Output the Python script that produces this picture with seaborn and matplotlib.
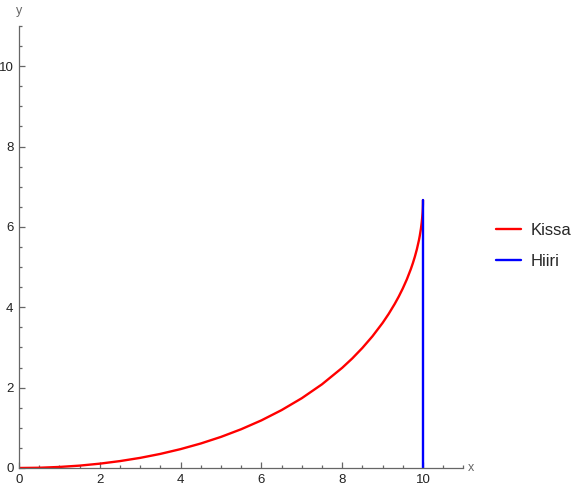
import numpy as np
import pandas as pd
import matplotlib
matplotlib.use("Agg")
import matplotlib.pyplot as plt
import seaborn as sns
from matplotlib.ticker import MultipleLocator

# cat path
kissa_x = [0, 0.5, 1, 1.5, 2, 2.5, 3, 3.5, 4, 4.5, 5, 5.5, 6, 6.5, 7, 7.5, 8, 8.25, 8.5,
           8.75, 9, 9.15, 9.3, 9.4, 9.5, 9.6, 9.7, 9.75, 9.8, 9.85, 9.9, 9.92, 9.95, 9.97,
           9.98, 9.99, 9.995, 9.999, 10]
kissa_y = [0, 0.006, 0.026, 0.059, 0.108, 0.172, 0.252, 0.351, 0.47, 0.61, 0.774, 0.965,
           1.185, 1.441, 1.737, 2.083, 2.493, 2.727, 2.988, 3.279, 3.61, 3.834, 4.083,
           4.266, 4.468, 4.693, 4.952, 5.099, 5.262, 5.448, 5.67, 5.775, 5.961, 6.12,
           6.22, 6.351, 6.445, 6.567, 6.667]
# mouse path
hiiri_x = [10, 10]
hiiri_y = [0, 6.667]

df = pd.concat([
    pd.DataFrame({"x": kissa_x, "y": kissa_y, "name": "Kissa"}),
    pd.DataFrame({"x": hiiri_x, "y": hiiri_y, "name": "Hiiri"}),
])

sns.set_style("white")
plt.rcParams['font.family'] = ['Liberation Sans', 'DejaVu Sans']

fig = plt.figure(figsize=(5.79, 4.90), dpi=100)
ax = fig.add_axes([0.0328, 0.0449, 0.7675, 0.902])

sns.lineplot(data=df, x="x", y="y", hue="name", palette={"Kissa": "#ff0000", "Hiiri": "#0000ff"},
             sort=False, estimator=None, linewidth=1.7, ax=ax, legend=False)

ax.set_xlim(0, 11)
ax.set_ylim(0, 11)
for s in ["top", "right"]:
    ax.spines[s].set_visible(False)
for s in ["left", "bottom"]:
    ax.spines[s].set_color("#666666")
    ax.spines[s].set_linewidth(0.9)
ax.xaxis.set_major_locator(MultipleLocator(2))
ax.xaxis.set_minor_locator(MultipleLocator(0.5))
ax.yaxis.set_major_locator(MultipleLocator(2))
ax.yaxis.set_minor_locator(MultipleLocator(0.5))
ax.tick_params(which="both", direction="in", color="#666666", width=0.9, labelsize=9.5, labelcolor="#222222")
ax.tick_params(which="major", length=4, pad=4)
ax.tick_params(which="minor", length=2.5)
ax.tick_params(axis="x", which="both", bottom=True)
ax.tick_params(axis="y", which="both", left=True)
ax.set_xlabel("")
ax.set_ylabel("")
ax.text(1.01, 0.0, "x", transform=ax.transAxes, ha="left", va="center", fontsize=9, color="#666666")
ax.text(0.0, 1.02, "y", transform=ax.transAxes, ha="center", va="bottom", fontsize=9, color="#666666")

handles = [plt.Line2D([], [], color="#ff0000", lw=1.7), plt.Line2D([], [], color="#0000ff", lw=1.7)]
fig.legend(handles, ["Kissa", "Hiiri"], loc="center left", bbox_to_anchor=(0.83, 0.498),
           frameon=False, fontsize=12, handlelength=1.55, labelspacing=0.95, handletextpad=0.55)

fig.savefig("out.png", dpi=100)
